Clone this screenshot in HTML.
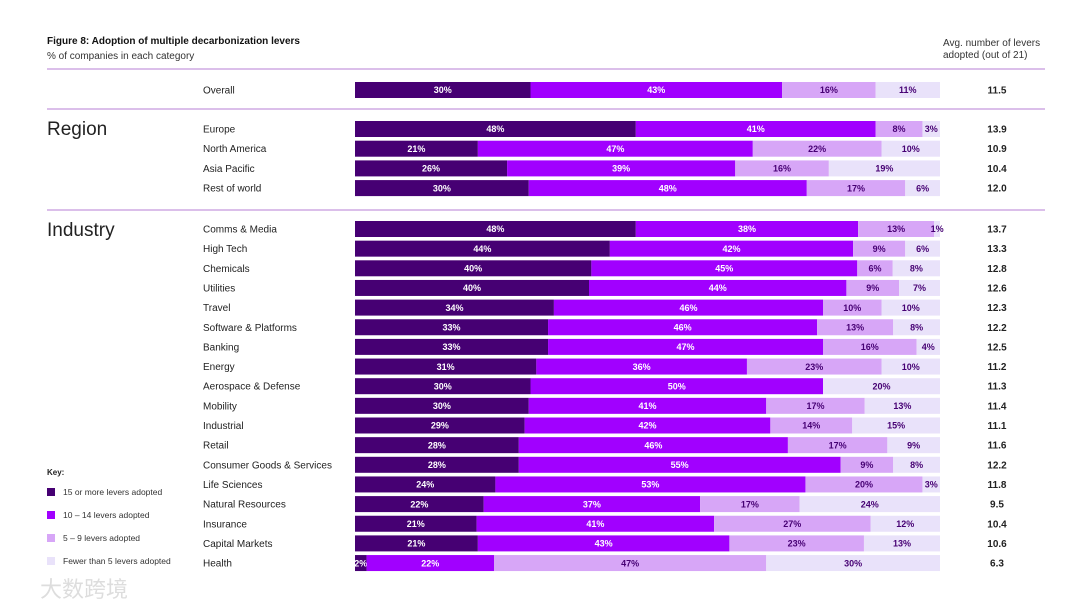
<!DOCTYPE html>
<html><head><meta charset="utf-8"><style>
body{margin:0;width:1080px;height:607px;background:#fff;font-family:"Liberation Sans",sans-serif;overflow:hidden;position:relative}
.t{position:absolute;white-space:nowrap}
</style></head><body>
<div class="t" style="left:47px;top:36px;font-size:10px;font-weight:bold;color:#111">Figure 8: Adoption of multiple decarbonization levers</div>
<div class="t" style="left:47px;top:51px;font-size:10px;color:#333">% of companies in each category</div>
<div class="t" style="left:943px;top:38px;font-size:10px;color:#333;line-height:12px">Avg. number of levers<br>adopted (out of 21)</div>
<div class="t" style="left:47px;top:119px;font-size:19px;color:#222">Region</div>
<div class="t" style="left:47px;top:220px;font-size:19px;color:#222">Industry</div>
<div>
<div class="t" style="left:47px;top:468px;font-size:8px;font-weight:bold;color:#222">Key:</div>
<div class="t" style="left:47px;top:487px;font-size:8.5px;color:#333"><span style="display:inline-block;width:8px;height:8px;background:#460073;vertical-align:-1px;margin-right:8px"></span>15 or more levers adopted</div>
<div class="t" style="left:47px;top:510px;font-size:8.5px;color:#333"><span style="display:inline-block;width:8px;height:8px;background:#a100ff;vertical-align:-1px;margin-right:8px"></span>10 – 14 levers adopted</div>
<div class="t" style="left:47px;top:533px;font-size:8.5px;color:#333"><span style="display:inline-block;width:8px;height:8px;background:#d7a6f7;vertical-align:-1px;margin-right:8px"></span>5 – 9 levers adopted</div>
<div class="t" style="left:47px;top:556px;font-size:8.5px;color:#333"><span style="display:inline-block;width:8px;height:8px;background:#e9e2fa;vertical-align:-1px;margin-right:8px"></span>Fewer than 5 levers adopted</div>
</div>
<div class="t" style="left:40px;top:572px;font-size:22px;color:#ddd;font-family:'Liberation Sans','Noto Sans CJK SC',sans-serif">大数跨境</div>
<svg id="c" width="1080" height="607" style="position:absolute;left:0;top:0"></svg>
<script>
const categories=["Overall","Europe","North America","Asia Pacific","Rest of world","Comms & Media","High Tech","Chemicals","Utilities","Travel","Software & Platforms","Banking","Energy","Aerospace & Defense","Mobility","Industrial","Retail","Consumer Goods & Services","Life Sciences","Natural Resources","Insurance","Capital Markets","Health"];
const s15=[30,48,21,26,30,48,44,40,40,34,33,33,31,30,30,29,28,28,24,22,21,21,2];
const s10=[43,41,47,39,48,38,42,45,44,46,46,47,36,50,41,42,46,55,53,37,41,43,22];
const s5=[16,8,22,16,17,13,9,6,9,10,13,16,23,0,17,14,17,9,20,17,27,23,47];
const s0=[11,3,10,19,6,1,6,8,7,10,8,4,10,20,13,15,9,8,3,24,12,13,30];
const avg=["11.5","13.9","10.9","10.4","12.0","13.7","13.3","12.8","12.6","12.3","12.2","12.5","11.2","11.3","11.4","11.1","11.6","12.2","11.8","9.5","10.4","10.6","6.3"];
const colors=["#460073","#a100ff","#d7a6f7","#e9e2fa"];
const txt=["#fff","#fff","#460073","#460073"];
const segNames=["15-plus","10-14","5-9","under-5"];
const X0=355,W=585,BH=16;
function rowY(i){if(i===0)return 90;if(i<5)return 129+(i-1)*19.7;return 229+(i-5)*19.65;}
function xScale(v,tot){return v/tot*W;}
const svg=document.getElementById('c');const NS="http://www.w3.org/2000/svg";
function el(t,a){const e=document.createElementNS(NS,t);for(const k in a)e.setAttribute(k,a[k]);svg.appendChild(e);return e;}
[69,109,210].forEach((y,i)=>{const l=el('line',{x1:47,x2:1045,y1:y,y2:y,stroke:'#b77fd6','stroke-width':1});

});
categories.forEach((c,i)=>{
  const y=rowY(i);const vals=[s15[i],s10[i],s5[i],s0[i]];const tot=vals.reduce((a,b)=>a+b,0);
  const lab=el('text',{x:203,y:y+3.5,'font-size':10,fill:'#222','font-family':'Liberation Sans'});lab.textContent=c;
  
  
  let x=X0;
  vals.forEach((v,j)=>{
    const w=xScale(v,tot);if(v<=0)return;
    const r=el('rect',{x:x,y:y-BH/2,width:w,height:BH,fill:colors[j]});
    
    
    const t=el('text',{x:x+w/2,y:y+3.2,'font-size':9,'font-weight':'bold',fill:txt[j],'text-anchor':'middle','font-family':'Liberation Sans'});t.textContent=v+'%';
    
    
    x+=w;});
  const a=el('text',{x:997,y:y+3.5,'font-size':10,'font-weight':'bold',fill:'#222','text-anchor':'middle','font-family':'Liberation Sans'});a.textContent=avg[i];
  
  
});
</script>
</body></html>
